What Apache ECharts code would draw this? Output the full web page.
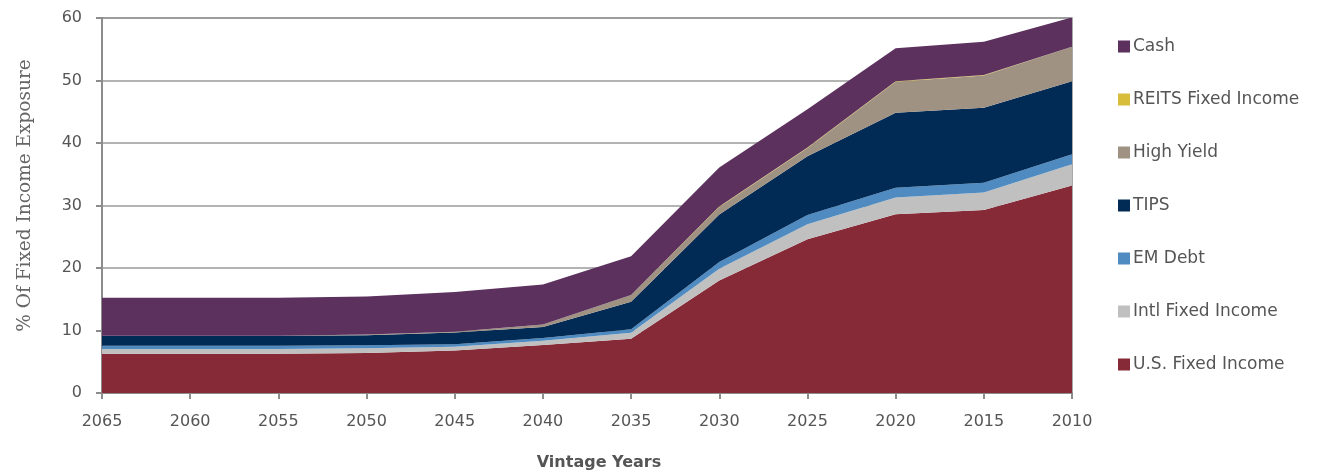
<!DOCTYPE html>
<html>
<head>
<meta charset="utf-8">
<script src="https://cdn.jsdelivr.net/npm/echarts@6/dist/echarts.min.js"></script>
<style>
  html, body { margin: 0; padding: 0; background: #ffffff; }
  #chart { width: 1329px; height: 471px; }
</style>
</head>
<body>
<div id="chart"></div>
<script>
// Vintage years (x axis) and fixed-income sleeve allocations (% of exposure)
const vintageYears = ['2065', '2060', '2055', '2050', '2045', '2040', '2035', '2030', '2025', '2020', '2015', '2010'];

const usFixedIncome   = [6.3, 6.3, 6.3, 6.4, 6.8, 7.7, 8.7, 18.0, 24.6, 28.6, 29.3, 33.2];
const intlFixedIncome = [0.75, 0.75, 0.75, 0.75, 0.6, 0.65, 0.95, 1.9, 2.4, 2.7, 2.8, 3.4];
const emDebt          = [0.5, 0.5, 0.5, 0.5, 0.4, 0.45, 0.55, 1.05, 1.5, 1.55, 1.55, 1.6];
const tips            = [1.6, 1.6, 1.6, 1.6, 1.9, 1.75, 4.4, 7.6, 9.4, 12.0, 12.0, 11.7];
const highYield       = [0, 0, 0, 0.1, 0.1, 0.4, 1.1, 1.2, 1.3, 4.95, 5.15, 5.5];
const reitsFixed      = [0, 0, 0, 0, 0, 0, 0, 0.1, 0.1, 0.1, 0.1, 0];
const cash            = [6.1, 6.1, 6.1, 6.1, 6.35, 6.4, 6.2, 6.25, 6.1, 5.25, 5.3, 4.7];

const yTicks = { min: 0, max: 60, interval: 10 };

const textColor = '#555555';
const axisColor = '#8c8c8c';

const layers = [
  { name: 'U.S. Fixed Income', data: usFixedIncome, color: '#862a37' },
  { name: 'Intl Fixed Income', data: intlFixedIncome, color: '#c0c0c0' },
  { name: 'EM Debt', data: emDebt, color: '#4f8bc1' },
  { name: 'TIPS', data: tips, color: '#012a55' },
  { name: 'High Yield', data: highYield, color: '#a09282' },
  { name: 'REITS Fixed Income', data: reitsFixed, color: '#d8bd3b' },
  { name: 'Cash', data: cash, color: '#5c315e' }
];

const chart = echarts.init(document.getElementById('chart'), null, { renderer: 'canvas' });

chart.setOption({
  animation: false,
  backgroundColor: '#ffffff',
  grid: {
    left: 102, right: 257, top: 18, bottom: 78,
    outerBoundsMode: 'none',
    show: true, borderColor: axisColor, borderWidth: 1.5, backgroundColor: 'transparent'
  },
  legend: {
    orient: 'vertical',
    left: 1113, top: 33,
    itemWidth: 12, itemHeight: 12, itemGap: 36,
    icon: 'rect',
    textStyle: { color: textColor, fontSize: 17, fontFamily: 'DejaVu Sans', padding: [0, 0, 0, -2] },
    data: ['Cash', 'REITS Fixed Income', 'High Yield', 'TIPS', 'EM Debt', 'Intl Fixed Income', 'U.S. Fixed Income']
  },
  xAxis: {
    type: 'category',
    data: vintageYears,
    boundaryGap: false,
    name: 'Vintage Years',
    nameLocation: 'middle',
    nameGap: 62,
    nameTextStyle: { color: textColor, fontSize: 16, fontWeight: 'bold', fontFamily: 'DejaVu Sans', padding: [0, 0, 0, 24] },
    axisLine: { lineStyle: { color: axisColor, width: 2 } },
    axisTick: { show: true, length: 6, lineStyle: { color: axisColor, width: 2 }, alignWithLabel: true },
    axisLabel: { color: textColor, fontSize: 16, fontFamily: 'DejaVu Sans', margin: 21 },
    splitLine: { show: false }
  },
  yAxis: {
    type: 'value',
    min: yTicks.min, max: yTicks.max, interval: yTicks.interval,
    name: '% Of Fixed Income Exposure',
    nameLocation: 'middle',
    nameGap: 67,
    nameRotate: 90,
    nameTextStyle: { color: '#666666', fontSize: 18.5, fontFamily: 'DejaVu Serif', padding: [0, 0, 0, 20] },
    axisLine: { show: true, lineStyle: { color: axisColor, width: 2 } },
    axisTick: { show: true, length: 6, lineStyle: { color: axisColor, width: 2 } },
    axisLabel: { color: textColor, fontSize: 16, fontFamily: 'DejaVu Sans', margin: 20 },
    splitLine: { show: true, lineStyle: { color: '#9a9a9a', width: 1.5 } }
  },
  series: layers.map(l => ({
    name: l.name,
    type: 'line',
    stack: 'total',
    data: l.data,
    symbol: 'none',
    showSymbol: false,
    lineStyle: { width: 0 },
    areaStyle: { color: l.color, opacity: 1 },
    itemStyle: { color: l.color },
    emphasis: { disabled: true }
  }))
});
</script>
</body>
</html>
